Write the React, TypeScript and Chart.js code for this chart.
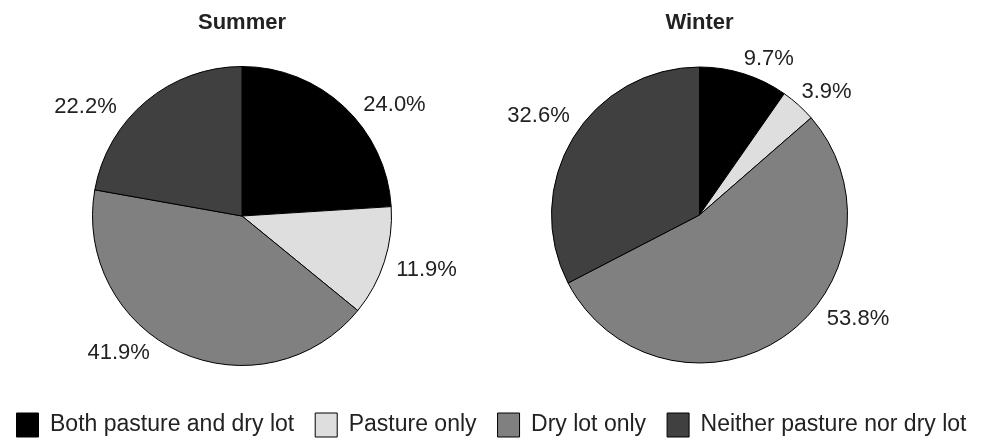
import React, { useEffect, useRef } from "react";
import { Chart, registerables } from "chart.js";

Chart.register(...registerables);

const CATEGORIES = ["Both pasture and dry lot", "Pasture only", "Dry lot only", "Neither pasture nor dry lot"];
const SUMMER_VALUES = [24.0, 11.9, 41.9, 22.2];
const WINTER_VALUES = [9.7, 3.9, 53.8, 32.6];
const TITLES = ["Summer", "Winter"];

const COLORS = ["#000000", "#dedede", "#808080", "#404040"];
const TEXT_COLOR = "#222222";
const FONT = "'Liberation Sans', Arial, Helvetica, sans-serif";

// label placement nudges relative to each slice: angle offset (deg, clockwise) and distance factor of radius
const SUMMER_LABEL_NUDGE = [
  { da: 10.6, k: 1.264 },
  { da: -1.8, k: 1.284 },
  { da: 17.5, k: 1.229 },
  { da: -14.9, k: 1.28 },
];
const WINTER_LABEL_NUDGE = [
  { da: 6.4, k: 1.157 },
  { da: 3.8, k: 1.199 },
  { da: -22.8, k: 1.277 },
  { da: 0.5, k: 1.28 },
];

Chart.defaults.font.family = FONT;

const outerLabels = {
  id: "outerLabels",
  afterDatasetsDraw(chart: any, _args: any, opts: any) {
    const meta = chart.getDatasetMeta(0);
    const values = chart.data.datasets[0].data as number[];
    const ctx = chart.ctx as CanvasRenderingContext2D;
    ctx.save();
    ctx.font = `normal 22px ${FONT}`;
    ctx.fillStyle = TEXT_COLOR;
    ctx.textAlign = "center";
    ctx.textBaseline = "middle";
    meta.data.forEach((arc: any, i: number) => {
      const p = arc.getProps(["x", "y", "startAngle", "endAngle", "outerRadius"], true);
      const n = (opts.nudges && opts.nudges[i]) || { da: 0, k: 1.25 };
      const a = (p.startAngle + p.endAngle) / 2 + (n.da * Math.PI) / 180;
      const r = p.outerRadius * n.k;
      ctx.fillText(values[i].toFixed(1) + "%", p.x + r * Math.cos(a), p.y + r * Math.sin(a) + 1);
    });
    ctx.restore();
  },
};

const noDatasets = {
  id: "noDatasets",
  beforeDatasetsDraw() {
    return false;
  },
};

function pieConfig(title: string, values: number[], padding: any, titleBottom: number, nudges: any) {
  return {
    type: "pie" as const,
    data: {
      labels: CATEGORIES,
      datasets: [
        {
          data: values,
          backgroundColor: COLORS,
          borderColor: "#000000",
          borderWidth: 1,
        },
      ],
    },
    options: {
      responsive: false,
      animation: false as const,
      layout: { padding },
      plugins: {
        legend: { display: false },
        tooltip: { enabled: false },
        title: {
          display: true,
          text: title,
          color: TEXT_COLOR,
          font: { size: 22, weight: "bold" as const, family: FONT },
          padding: { top: 10, bottom: titleBottom },
        },
        outerLabels: { nudges },
      },
    },
    plugins: [outerLabels],
  };
}

export default function App() {
  const leftRef = useRef<HTMLCanvasElement>(null);
  const rightRef = useRef<HTMLCanvasElement>(null);
  const legendRef = useRef<HTMLCanvasElement>(null);

  useEffect(() => {
    const charts: Chart[] = [];
    if (leftRef.current) {
      charts.push(
        new Chart(
          leftRef.current,
          pieConfig(TITLES[0], SUMMER_VALUES, { left: 92, right: 99, top: 0, bottom: 26 }, 29.6, SUMMER_LABEL_NUDGE) as any
        )
      );
    }
    if (rightRef.current) {
      charts.push(
        new Chart(
          rightRef.current,
          pieConfig(TITLES[1], WINTER_VALUES, { left: 60, right: 135, top: 0, bottom: 28.5 }, 30.1, WINTER_LABEL_NUDGE) as any
        )
      );
    }
    if (legendRef.current) {
      charts.push(
        new Chart(legendRef.current, {
          type: "pie",
          data: {
            labels: CATEGORIES,
            datasets: [
              {
                data: SUMMER_VALUES,
                backgroundColor: COLORS,
                borderColor: "#000000",
                borderWidth: 1,
              },
            ],
          },
          options: {
            responsive: false,
            animation: false,
            plugins: {
              title: { display: false },
              tooltip: { enabled: false },
              legend: {
                display: true,
                position: "top",
                maxHeight: 120,
                labels: {
                  boxWidth: 22,
                  boxHeight: 24,
                  padding: 21,
                  color: TEXT_COLOR,
                  font: { size: 23, family: FONT },
                },
              },
            },
          },
          plugins: [noDatasets],
        } as any)
      );
    }
    return () => {
      charts.forEach((c) => c.destroy());
    };
  }, []);

  return (
    <div
      style={{
        position: "absolute",
        left: 0,
        top: 0,
        width: 983,
        height: 443,
        overflow: "hidden",
        background: "#ffffff",
      }}
    >
      <canvas ref={leftRef} width={491} height={392} style={{ position: "absolute", left: 0, top: 0, display: "block" }} />
      <canvas ref={rightRef} width={492} height={392} style={{ position: "absolute", left: 491, top: 0, display: "block" }} />
      <canvas ref={legendRef} width={1011} height={150} style={{ position: "absolute", left: -14, top: 392, display: "block" }} />
    </div>
  );
}
